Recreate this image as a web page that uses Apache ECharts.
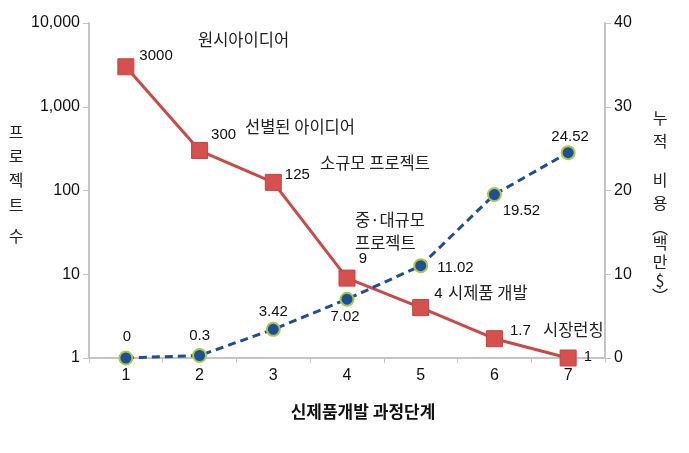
<!DOCTYPE html>
<html>
<head>
<meta charset="utf-8">
<script src="https://cdn.jsdelivr.net/npm/echarts@6/dist/echarts.min.js"></script>
<style>
  html, body { margin: 0; padding: 0; background: #fff; }
  #chart { width: 689px; height: 453px; }
</style>
</head>
<body>
<div id="chart"></div>
<script>
const stages = ['1', '2', '3', '4', '5', '6', '7']
const projectCount = [3000, 300, 125, 9, 4, 1.7, 1]
const cumulativeCost = [0, 0.3, 3.42, 7.02, 11.02, 19.52, 24.52]
const leftTicks = [1, 10, 100, 1000, 10000]

const KR = '"Noto Sans CJK KR", "Noto Sans", sans-serif'
const NUM = '"Liberation Sans", Arial, sans-serif'

// 레이블 위치 (빨간 선)
const redLabelPos = [
  { position: 'right', offset: [0, -11] },
  { position: 'right', offset: [-2, -16] },
  { position: 'right', offset: [-2, -8] },
  { position: 'top', offset: [16, 2] },
  { position: 'right', offset: [0, -14] },
  { position: 'right', offset: [2, -8] },
  { position: 'right', offset: [2, -1] }
]
// 레이블 위치 (파란 선)
const blueLabelPos = [
  { position: 'top', offset: [1, -1] },
  { position: 'top', offset: [0, 0] },
  { position: 'top', offset: [0, 3] },
  { position: 'bottom', offset: [-2, -2] },
  { position: 'right', offset: [4, 2] },
  { position: 'bottom', offset: [27, -4] },
  { position: 'top', offset: [2, 4] }
]

const notes = [
  { text: '원시아이디어', x: 198, y: 28 },
  { text: '선별된 아이디어', x: 245, y: 115 },
  { text: '소규모 프로젝트', x: 320, y: 151 },
  { text: '중·대규모\n프로젝트', x: 355, y: 208 },
  { text: '시제품 개발', x: 448, y: 281 },
  { text: '시장런칭', x: 543, y: 318 }
]

const leftName = [['프', 132], ['로', 156], ['젝', 180], ['트', 205], ['수', 236]]
const rightName = [['누', 118], ['적', 141], ['비', 180], ['용', 203], ['︵', 228], ['백', 243], ['만', 262], ['$', 281], ['︶', 296]]

const chart = echarts.init(document.getElementById('chart'))

const graphic = []
notes.forEach(n => {
  graphic.push({
    type: 'text', left: n.x, top: n.y,
    style: { text: n.text, font: '16.5px ' + KR, fill: '#222', lineHeight: 23 }
  })
})
leftName.forEach(c => {
  graphic.push({
    type: 'text', x: 16, y: c[1],
    style: { text: c[0], font: '16px ' + KR, fill: '#222', align: 'center', verticalAlign: 'middle' }
  })
})
rightName.forEach(c => {
  graphic.push({
    type: 'text', x: 660, y: c[1],
    style: { text: c[0], font: '16px ' + KR, fill: '#222', align: 'center', verticalAlign: 'middle' }
  })
})

const option = {
  backgroundColor: '#fff',
  animation: false,
  grid: { left: 89, right: 84, top: 23, bottom: 95 },
  xAxis: {
    type: 'category',
    data: stages,
    boundaryGap: true,
    name: '신제품개발 과정단계',
    nameLocation: 'middle',
    nameGap: 45,
    nameTextStyle: { fontFamily: KR, fontSize: 17, fontWeight: 'bold', color: '#111', padding: [0, 0, 0, 32] },
    axisLine: { lineStyle: { color: '#c4c4c4', width: 2 } },
    axisTick: { show: true, length: 5, lineStyle: { color: '#c4c4c4' } },
    axisLabel: { fontFamily: NUM, fontSize: 16, color: '#111', margin: 10 }
  },
  yAxis: [
    {
      type: 'log',
      logBase: 10,
      min: 1,
      max: 10000,
      axisLine: { show: true, lineStyle: { color: '#c4c4c4', width: 2 } },
      axisTick: { show: true, length: 6, lineStyle: { color: '#c4c4c4' } },
      splitLine: { show: false },
      axisLabel: {
        fontFamily: NUM, fontSize: 16, color: '#111', margin: 9,
        formatter: v => leftTicks.includes(v) ? v.toLocaleString('en-US') : ''
      }
    },
    {
      type: 'value',
      min: 0,
      max: 40,
      interval: 10,
      position: 'right',
      axisLine: { show: true, lineStyle: { color: '#c4c4c4', width: 2 } },
      axisTick: { show: true, length: 6, lineStyle: { color: '#c4c4c4' } },
      splitLine: { show: false },
      axisLabel: { fontFamily: NUM, fontSize: 16, color: '#111', margin: 9 }
    }
  ],
  series: [
    {
      name: '프로젝트 수',
      type: 'line',
      yAxisIndex: 0,
      data: projectCount.map((v, i) => ({
        value: v,
        label: redLabelPos[i]
      })),
      symbol: 'rect',
      symbolSize: 16,
      itemStyle: { color: '#d6504d', borderColor: '#c24542', borderWidth: 1 },
      lineStyle: { color: '#c94a47', width: 3 },
      label: { show: true, fontFamily: NUM, fontSize: 15, color: '#111' },
      z: 2
    },
    {
      name: '누적 비용',
      type: 'line',
      yAxisIndex: 1,
      data: cumulativeCost.map((v, i) => ({
        value: v,
        label: blueLabelPos[i]
      })),
      symbol: 'circle',
      symbolSize: 13,
      itemStyle: { color: '#1f4f96', borderColor: '#a9c84a', borderWidth: 2 },
      lineStyle: { color: '#1f4f8f', width: 3, type: [8, 5] },
      label: { show: true, fontFamily: NUM, fontSize: 15, color: '#111' },
      z: 3
    }
  ],
  graphic: graphic
}

chart.setOption(option)
</script>
</body>
</html>
